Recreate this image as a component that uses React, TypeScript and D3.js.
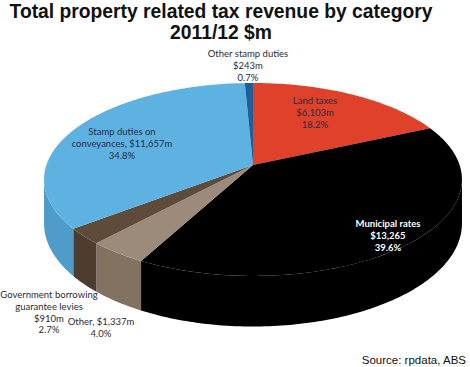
import React from 'react';
import * as d3 from 'd3';

// Slices in clockwise order starting at 12 o'clock
const categories = [
  'Land taxes',
  'Municipal rates',
  'Other',
  'Government borrowing guarantee levies',
  'Stamp duties on conveyances',
  'Other stamp duties',
];
const values = [6103, 13265, 1337, 910, 11657, 243];
const labelLines = [
  ['Land taxes', '$6,103m', '18.2%'],
  ['Municipal rates', '$13,265', '39.6%'],
  ['Other, $1,337m', '4.0%'],
  ['Government borrowing', 'guarantee levies', '$910m', '2.7%'],
  ['Stamp duties on', 'conveyances, $11,657m', '34.8%'],
  ['Other stamp duties', '$243m', '0.7%'],
];

const topColors = ['#e0412a', '#000000', '#9c8b7b', '#5e4b3a', '#5eb2e2', '#1f5e98'];
const sideColors = ['#b83420', '#000000', '#827262', '#4d3d2e', '#4f9ccb', '#1a4f80'];

// label anchor (centre x, first baseline y), colour, weight
const labelPos = [
  { x: 315, y: 104, fill: '#2b2b3a', bold: false },
  { x: 388, y: 227, fill: '#ffffff', bold: true },
  { x: 101, y: 325, fill: '#2b2b3a', bold: false },
  { x: 49, y: 298, fill: '#2b2b3a', bold: false },
  { x: 122, y: 135, fill: '#2b2b3a', bold: false },
  { x: 248, y: 57, fill: '#2b2b3a', bold: false },
];

const W = 470;
const H = 367;
const cx = 253;
const cy = 165;
const R = 206.6;
const Ry = 94.3;
const P = 0.15; // perspective strength
const depth = 43;

function proj(theta: number, r = 1, dz = 0): [number, number] {
  const u = Math.sin(theta) * r;
  const v = -Math.cos(theta) * r;
  const s = 1 / (1 - P * v);
  return [cx + R * u * s, cy + Ry * v * s + dz * s];
}

function arcPoints(a0: number, a1: number, dz = 0) {
  const n = Math.max(2, Math.ceil(((a1 - a0) * 180) / Math.PI));
  return d3.range(n + 1).map(i => proj(a0 + ((a1 - a0) * i) / n, 1, dz));
}

export default function App() {
  const arcs = d3.pie<number>().sort(null).startAngle(0).endAngle(2 * Math.PI)(values);
  const line = d3.line().curve(d3.curveLinearClosed);

  // outer wall faces the viewer between these angles
  const vis0 = Math.acos(-P);
  const vis1 = 2 * Math.PI - vis0;

  const sides = arcs.map((a, i) => {
    const s0 = Math.max(a.startAngle, vis0);
    const s1 = Math.min(a.endAngle, vis1);
    if (s1 <= s0) return null;
    const pts = [...arcPoints(s0, s1), ...arcPoints(s0, s1, depth).reverse()];
    return <path key={'s' + i} d={line(pts) || ''} fill={sideColors[i]} />;
  });

  const tops = arcs.map((a, i) => {
    const pts: [number, number][] = [[cx, cy], ...arcPoints(a.startAngle, a.endAngle)];
    return <path key={'t' + i} d={line(pts) || ''} fill={topColors[i]} />;
  });

  return (
    <div style={{ position: 'absolute', left: 0, top: 0 }}>
      <svg width={W} height={H} style={{ display: 'block', background: '#fff' }}>
        <g fontFamily="Liberation Sans, Arial, sans-serif" fontWeight="bold" fontSize={19.3} fill="#111" textAnchor="middle">
          <text x={221} y={18}>Total property related tax revenue by category</text>
          <text x={221} y={39}>2011/12 $m</text>
        </g>
        <g>{sides}</g>
        <g>{tops}</g>
        <g fontFamily="Lato, 'Open Sans', sans-serif" fontSize={9.5} textAnchor="middle">
          {labelLines.map((lines, i) => (
            <text
              key={categories[i]}
              x={labelPos[i].x}
              y={labelPos[i].y}
              fill={labelPos[i].fill}
              fontWeight={labelPos[i].bold ? 'bold' : 'normal'}
            >
              {lines.map((t, j) => (
                <tspan key={j} x={labelPos[i].x} dy={j === 0 ? 0 : 11.8}>{t}</tspan>
              ))}
            </text>
          ))}
        </g>
        <text x={466} y={364} textAnchor="end" fontFamily="Liberation Sans, Arial, sans-serif" fontSize={11.5} fill="#111">
          Source: rpdata, ABS
        </text>
      </svg>
    </div>
  );
}
